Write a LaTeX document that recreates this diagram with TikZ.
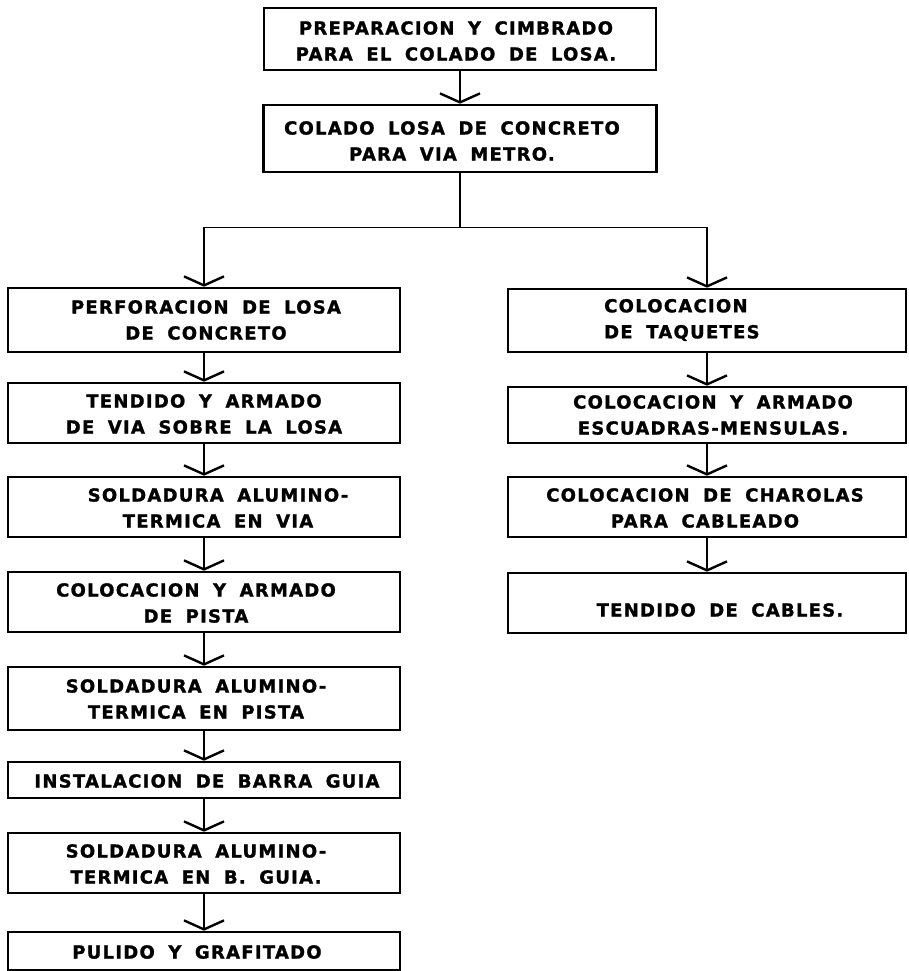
\documentclass[tikz,border=0pt]{standalone}
\usepackage{fontspec}
\newfontfamily\lettering{DejaVu Sans}[LetterSpace=7,WordSpace=1.8,FakeBold=1.3]
\usetikzlibrary{arrows.meta}
\tikzset{
  box/.style={draw, line width=2.6pt, rectangle, inner sep=0pt},
  txt/.style={font=\lettering\bfseries\fontsize{18}{26}\selectfont, align=center, inner sep=0pt},
  conn/.style={line width=1.6pt},
  arr/.style={conn, -{Straight Barb[length=9pt,width=40pt,line width=2.4pt]}},
}
\begin{document}
\begin{tikzpicture}[x=1pt,y=-1pt]
\useasboundingbox (0,0) rectangle (909,971);
% top boxes
\node[box, minimum width=392, minimum height=62] (b1) at (460,39) {};
\node[txt] (b1t) at (456,41) {PREPARACION Y CIMBRADO\\PARA EL COLADO DE LOSA.};
\node[box, minimum width=393, minimum height=67] (b2) at (460,138.5) {};
\node[txt] (b2t) at (452,141) {COLADO LOSA DE CONCRETO\\PARA VIA METRO.};
% left column
\node[box, minimum width=392, minimum height=64] (l1) at (204,320) {};
\node[txt] (l1t) at (206,320) {PERFORACION DE LOSA\\DE CONCRETO};
\node[box, minimum width=392, minimum height=60] (l2) at (204,413) {};
\node[txt] (l2t) at (204,414) {TENDIDO Y ARMADO\\DE VIA SOBRE LA LOSA};
\node[box, minimum width=392, minimum height=60] (l3) at (204,507) {};
\node[txt] (l3t) at (218,508) {SOLDADURA ALUMINO-\\TERMICA EN VIA};
\node[box, minimum width=392, minimum height=60] (l4) at (204,602) {};
\node[txt] (l4t) at (196,603) {COLOCACION Y ARMADO\\DE PISTA};
\node[box, minimum width=392, minimum height=63] (l5) at (204,698.5) {};
\node[txt] (l5t) at (196,699) {SOLDADURA ALUMINO-\\TERMICA EN PISTA};
\node[box, minimum width=392, minimum height=36] (l6) at (204,780) {};
\node[txt] (l6t) at (207,781) {INSTALACION DE BARRA GUIA};
\node[box, minimum width=392, minimum height=60] (l7) at (204,863) {};
\node[txt] (l7t) at (196,864) {SOLDADURA ALUMINO-\\TERMICA EN B. GUIA.};
\node[box, minimum width=392, minimum height=38] (l8) at (204,951) {};
\node[txt] (l8t) at (197,952) {PULIDO Y GRAFITADO};
% right column
\node[box, minimum width=398, minimum height=63] (r1) at (707,320.5) {};
\node[txt, align=left, anchor=west] (r1t) at (604,320) {COLOCACION\\DE TAQUETES};
\node[box, minimum width=398, minimum height=56] (r2) at (707,415) {};
\node[txt] (r2t) at (713,415) {COLOCACION Y ARMADO\\ESCUADRAS-MENSULAS.};
\node[box, minimum width=398, minimum height=60] (r3) at (707,507) {};
\node[txt] (r3t) at (705,508) {COLOCACION DE CHAROLAS\\PARA CABLEADO};
\node[box, minimum width=398, minimum height=60] (r4) at (707,603) {};
\node[txt] (r4t) at (720,610) {TENDIDO DE CABLES.};
% connectors
\draw[arr] (b1.south) -- (b2.north);
\draw[conn] (b2.south) -- ++(0,54) coordinate (j);
\draw[arr] (j) -| (l1.north);
\draw[arr] (j) -| (r1.north);
\draw[arr] (l1.south) -- (l2.north);
\draw[arr] (l2.south) -- (l3.north);
\draw[arr] (l3.south) -- (l4.north);
\draw[arr] (l4.south) -- (l5.north);
\draw[arr] (l5.south) -- (l6.north);
\draw[arr] (l6.south) -- (l7.north);
\draw[arr] (l7.south) -- (l8.north);
\draw[arr] (r1.south) -- (r2.north);
\draw[arr] (r2.south) -- (r3.north);
\draw[arr] (r3.south) -- (r4.north);
\end{tikzpicture}
\end{document}
